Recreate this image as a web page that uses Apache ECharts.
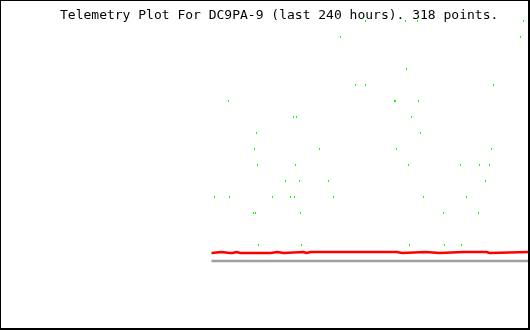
<!DOCTYPE html>
<html><head><meta charset="utf-8">
<script src="https://cdn.jsdelivr.net/npm/echarts@6/dist/echarts.min.js"></script>
<style>html,body{margin:0;padding:0;background:#fff}#c{width:530px;height:330px}</style>
</head><body><div id="c"></div>
<script>
const titleText = 'Telemetry Plot For DC9PA-9 (last 240 hours). 318 points.';
// sample slot (plot column) and level of the green telemetry channel
const greenX = [365,405,417,523, 340,520, 406, 355,365,493, 228,394,395,418, 293,296,411, 256,420, 254,319,396,491, 257,295,408,460,479,489, 285,299,328,485, 214,229,272,290,294,333,423,466, 253,255,300,443,478, 258,301,409,444,461];
const greenLevel = [15,15,15,15, 14,14, 12, 11,11,11, 10,10,10,10, 9,9,9, 8,8, 7,7,7,7, 6,6,6,6,6,6, 5,5,5,5, 4,4,4,4,4,4,4,4, 3,3,3,3,3, 1,1,1,1,1];
// red channel breakpoints
const redX = [211,212,221,222,229,230,231,232,233,234,236,237,240,241,242,260,261,262,270,271,277,278,283,284,303,304,306,307,310,311,312,313,337,338,339,396,397,402,403,425,426,439,440,463,464,465,474,475,476,477,486,487,488,489,490,528];
const redVal = [8,9,9,8,8,9,9,8,8,9,9,8,8,7,8,8,7,8,8,9,9,8,8,9,9,8,8,9,9,8,7,9,9,8,9,9,8,8,9,9,8,8,9,9,8,9,9,8,8,9,9,8,9,8,9,9];
// grey baseline channel
const grayX = [211,528];
const grayVal = [0,0];

const chart = echarts.init(document.getElementById('c'), null, {renderer:'canvas'});
chart.setOption({
  animation:false,
  backgroundColor:'#fff',
  title:{text:titleText,left:60,top:9,padding:0,
    textStyle:{fontFamily:'DejaVu Sans Mono',fontSize:13,fontWeight:'normal',color:'#000'}},
  grid:{left:0,width:528,top:21,height:240},
  xAxis:{type:'value',min:-0.5,max:527.5,show:false},
  yAxis:[{type:'value',min:0,max:15,show:false},{type:'value',min:0,max:240,show:false}],
  series:[
    {type:'line',yAxisIndex:1,data:grayX.map((x,i)=>[x,grayVal[i]]),showSymbol:false,clip:false,
     lineStyle:{color:'#a0a0a0',width:2.5,opacity:1},z:1},
    {type:'line',yAxisIndex:1,data:redX.map((x,i)=>[x,redVal[i]]),showSymbol:false,clip:false,
     lineStyle:{color:'#ff0000',width:2.5,opacity:1},z:2},
    {type:'scatter',yAxisIndex:0,data:greenX.map((x,i)=>[x,greenLevel[i]]),symbol:'rect',symbolSize:[1,2],
     itemStyle:{color:'#00ff00',opacity:1},clip:false,z:3}
  ],
  graphic:[
    {type:'rect',shape:{x:0,y:0,width:1,height:330},style:{fill:'#000'},z:100},
    {type:'rect',shape:{x:0,y:0,width:530,height:1},style:{fill:'#000'},z:100},
    {type:'rect',shape:{x:528,y:0,width:2,height:330},style:{fill:'#000'},z:100},
    {type:'rect',shape:{x:0,y:328,width:530,height:2},style:{fill:'#000'},z:100}
  ]
});
</script></body></html>
